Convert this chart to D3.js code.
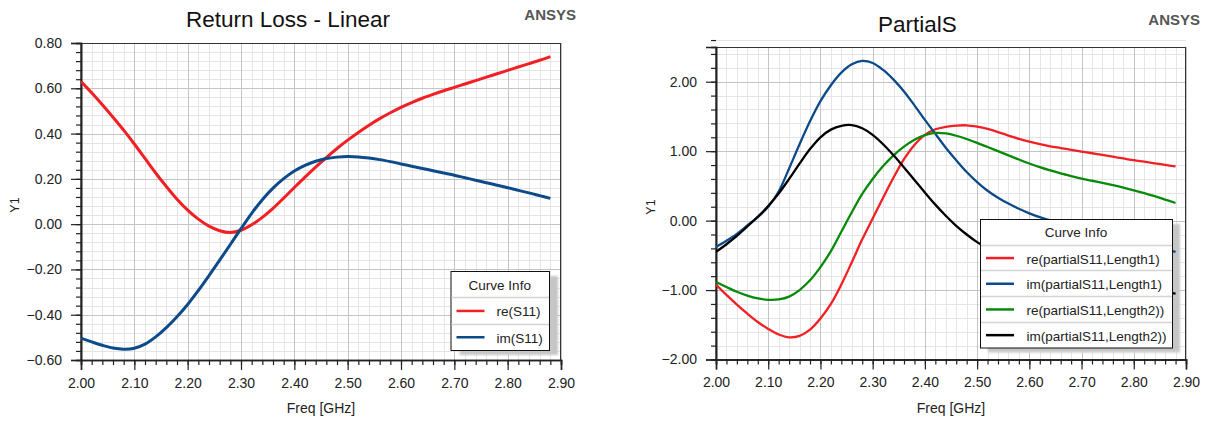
<!DOCTYPE html>
<html><head><meta charset="utf-8">
<script src="https://cdn.jsdelivr.net/npm/d3@7"></script>
<style>
body{margin:0;background:#fff;}
svg{display:block;font-family:"Liberation Sans",Arial,Helvetica,sans-serif;}
</style>
</head><body>
<svg id="chart" width="1210" height="425"></svg>
<script>
// ---------- data ----------
const freq = [2.00,2.02,2.04,2.06,2.08,2.10,2.12,2.14,2.16,2.18,2.20,2.22,2.24,2.26,2.28,2.30,2.32,2.34,2.36,2.38,2.40,2.42,2.44,2.46,2.48,2.50,2.52,2.54,2.56,2.58,2.60,2.62,2.64,2.66,2.68,2.70,2.72,2.74,2.76,2.78,2.80,2.82,2.84,2.86,2.88];

// Return Loss - Linear
const reS11 = [0.630,0.580,0.527,0.472,0.415,0.354,0.290,0.226,0.166,0.110,0.062,0.022,-0.009,-0.029,-0.037,-0.027,-0.003,0.030,0.070,0.115,0.162,0.208,0.252,0.294,0.334,0.371,0.405,0.437,0.466,0.492,0.516,0.537,0.556,0.573,0.589,0.604,0.619,0.634,0.649,0.664,0.679,0.694,0.709,0.724,0.740];
const imS11 = [-0.504,-0.520,-0.535,-0.547,-0.552,-0.548,-0.530,-0.498,-0.457,-0.409,-0.355,-0.293,-0.227,-0.159,-0.090,-0.020,0.048,0.108,0.159,0.201,0.235,0.260,0.278,0.290,0.296,0.299,0.297,0.292,0.285,0.276,0.266,0.256,0.246,0.236,0.226,0.216,0.205,0.194,0.183,0.172,0.161,0.149,0.138,0.126,0.114];

// PartialS
const rePartialL1 = [-0.92,-1.07,-1.21,-1.34,-1.46,-1.56,-1.64,-1.68,-1.66,-1.57,-1.41,-1.20,-0.92,-0.60,-0.27,0.03,0.33,0.62,0.885,1.09,1.235,1.315,1.35,1.368,1.372,1.352,1.32,1.275,1.225,1.178,1.136,1.10,1.07,1.045,1.02,0.995,0.97,0.945,0.92,0.895,0.87,0.848,0.825,0.802,0.78];
const imPartialL1 = [-0.38,-0.29,-0.19,-0.07,0.05,0.20,0.42,0.75,1.10,1.43,1.72,1.95,2.13,2.25,2.30,2.27,2.17,2.03,1.86,1.66,1.45,1.25,1.05,0.87,0.70,0.555,0.43,0.33,0.245,0.17,0.105,0.05,0.005,-0.04,-0.085,-0.125,-0.165,-0.20,-0.235,-0.27,-0.305,-0.34,-0.375,-0.41,-0.45];
const rePartialL2 = [-0.885,-0.955,-1.025,-1.08,-1.12,-1.14,-1.135,-1.095,-1.00,-0.86,-0.67,-0.44,-0.16,0.12,0.385,0.60,0.785,0.94,1.065,1.165,1.232,1.262,1.255,1.222,1.175,1.12,1.06,1.00,0.94,0.88,0.822,0.77,0.722,0.68,0.642,0.606,0.574,0.543,0.51,0.475,0.437,0.397,0.352,0.303,0.254];
const imPartialL2 = [-0.45,-0.34,-0.22,-0.085,0.055,0.21,0.39,0.60,0.82,1.03,1.20,1.31,1.365,1.375,1.33,1.235,1.10,0.94,0.765,0.585,0.405,0.23,0.07,-0.075,-0.20,-0.31,-0.40,-0.475,-0.54,-0.60,-0.65,-0.70,-0.74,-0.78,-0.815,-0.845,-0.875,-0.90,-0.925,-0.95,-0.97,-0.99,-1.01,-1.03,-1.05];

// tick labels
const xTicks = [2.00,2.10,2.20,2.30,2.40,2.50,2.60,2.70,2.80,2.90];
const yTicksLeft = [-0.60,-0.40,-0.20,0.00,0.20,0.40,0.60,0.80];
const yTicksRight = [-2.00,-1.00,0.00,1.00,2.00];

const leftNames = ["re(S11)","im(S11)"];
const rightNames = ["re(partialS11,Length1)","im(partialS11,Length1)","re(partialS11,Length2))","im(partialS11,Length2))"];

// ---------- drawing ----------
const svg = d3.select("#chart");
const RED="#f21f24", BLUE="#0c4a8a", GREEN="#078a0a", BLACK="#000000";
const fmt = d3.format(".2f");

function panel(cfg){
  const g = svg.append("g");
  const x = d3.scaleLinear().domain([2.0,2.9]).range([cfg.left,cfg.right]);
  const y = d3.scaleLinear().domain(cfg.yDomain).range([cfg.bottom,cfg.top]);

  // minor grid
  const xMinor = d3.range(0,46).map(i=>2.0+i*0.02);
  const yMinor = d3.range(0, Math.round((cfg.yDomain[1]-cfg.yDomain[0])/cfg.yMinorStep)+1)
                   .map(i=>cfg.yDomain[0]+i*cfg.yMinorStep);
  g.append("rect").attr("x",cfg.left).attr("y",cfg.top).attr("width",cfg.right-cfg.left).attr("height",cfg.bottom-cfg.top).attr("fill","#fff");
  g.append("g").selectAll("line").data(xMinor).join("line")
    .attr("x1",d=>Math.round(x(d))+0.5).attr("x2",d=>Math.round(x(d))+0.5)
    .attr("y1",cfg.top).attr("y2",cfg.bottom).attr("stroke","#e5e5e5").attr("stroke-width",1);
  g.append("g").selectAll("line").data(yMinor).join("line")
    .attr("y1",d=>Math.round(y(d))+0.5).attr("y2",d=>Math.round(y(d))+0.5)
    .attr("x1",cfg.left).attr("x2",cfg.right).attr("stroke","#e5e5e5").attr("stroke-width",1);
  // major grid
  g.append("g").selectAll("line").data(xTicks).join("line")
    .attr("x1",d=>Math.round(x(d))+0.5).attr("x2",d=>Math.round(x(d))+0.5)
    .attr("y1",cfg.top).attr("y2",cfg.bottom).attr("stroke","#c4c4c4").attr("stroke-width",1);
  g.append("g").selectAll("line").data(cfg.yTicks).join("line")
    .attr("y1",d=>Math.round(y(d))+0.5).attr("y2",d=>Math.round(y(d))+0.5)
    .attr("x1",cfg.left).attr("x2",cfg.right).attr("stroke","#c4c4c4").attr("stroke-width",1);

  // frame
  g.append("rect").attr("x",cfg.left).attr("y",cfg.top+0.5).attr("width",cfg.right-cfg.left-0.5).attr("height",cfg.bottom-cfg.top)
    .attr("fill","none").attr("stroke","#333").attr("stroke-width",1);

  // axes
  const axStyle = sel=>{
    sel.select(".domain").attr("stroke","#222").attr("stroke-width",1.6);
    sel.selectAll(".tick line").attr("stroke","#222").attr("stroke-width",1.2);
    sel.selectAll("text").attr("font-family","'Liberation Sans',Arial,sans-serif").attr("font-size",14).attr("fill","#222");
  };
  const yMinorAx = g.append("g").attr("transform",`translate(${cfg.left},0)`)
    .call(d3.axisLeft(y).tickValues(yMinor).tickSize(5).tickFormat(""));
  axStyle(yMinorAx);
  const yAx = g.append("g").attr("transform",`translate(${cfg.left},0)`)
    .call(d3.axisLeft(y).tickValues(cfg.yTicks).tickSize(10).tickPadding(9).tickFormat(fmt));
  axStyle(yAx);
  const xMinorAx = g.append("g").attr("transform",`translate(0,${cfg.bottom})`)
    .call(d3.axisBottom(x).tickValues(xMinor).tickSize(5).tickFormat(""));
  axStyle(xMinorAx);
  const xAx = g.append("g").attr("transform",`translate(0,${cfg.bottom})`)
    .call(d3.axisBottom(x).tickValues(xTicks).tickSize(10).tickPadding(8).tickFormat(fmt));
  axStyle(xAx);
  xAx.selectAll("text").attr("dy","0.71em");

  // axis titles
  g.append("text").attr("x",(cfg.left+cfg.right)/2).attr("y",cfg.xTitleY).attr("text-anchor","middle")
    .attr("font-size",14).attr("fill","#222").text("Freq [GHz]");
  g.append("text").attr("transform",`translate(${cfg.yTitleX},${cfg.yTitleY}) rotate(-90)`).attr("text-anchor","middle")
    .attr("dominant-baseline","central").attr("font-size",12.5).attr("fill","#222").text("Y1");

  // title + logo
  g.append("text").attr("x",cfg.titleX).attr("y",cfg.titleY).attr("text-anchor","middle")
    .attr("font-size",22.5).attr("fill","#111").text(cfg.title);
  g.append("text").attr("x",cfg.logoX).attr("y",cfg.logoY).attr("text-anchor","end")
    .attr("font-size",15).attr("font-weight","bold").attr("fill","#555").text("ANSYS");

  // legend geometry
  const L = cfg.legend;
  const defsId = "clip"+cfg.id;
  svg.append("defs").append("clipPath").attr("id",defsId).append("rect")
    .attr("x",cfg.left).attr("y",cfg.top).attr("width",cfg.right-cfg.left).attr("height",cfg.bottom-cfg.top);
  // shadow
  g.append("rect").attr("x",L.x+L.sx).attr("y",L.y+L.sy).attr("width",L.w).attr("height",L.h)
    .attr("fill","#c6c6c6").attr("clip-path",`url(#${defsId})`).attr("filter","url(#blur)");

  // curves
  const line = d3.line().x((d,i)=>x(freq[i])).y(d=>y(d)).curve(d3.curveCatmullRom.alpha(0.5));
  const cg = g.append("g").attr("clip-path",`url(#${defsId})`);
  cfg.series.forEach(s=>{
    cg.append("path").datum(s.values).attr("d",line).attr("fill","none")
      .attr("stroke",s.color).attr("stroke-width",cfg.lw).attr("stroke-linejoin","round");
  });

  // legend box
  const lg = g.append("g");
  lg.append("rect").attr("x",L.x+0.5).attr("y",L.y+0.5).attr("width",L.w).attr("height",L.h)
    .attr("fill","#fff").attr("stroke","#111").attr("stroke-width",1);
  lg.append("text").attr("x",L.x+L.w/2).attr("y",L.y+L.rowH/2+1).attr("text-anchor","middle")
    .attr("dominant-baseline","central").attr("font-size",13.5).attr("fill","#222").text("Curve Info");
  cfg.series.forEach((s,i)=>{
    const sepY = Math.round(L.y + L.rowH*(i+1)) + 0.5;
    lg.append("line").attr("x1",L.x+1).attr("x2",L.x+L.w).attr("y1",sepY).attr("y2",sepY)
      .attr("stroke","#d4d4d4").attr("stroke-width",1.5);
    const cy = L.y + L.rowH*(i+1.5) + 0.5;
    lg.append("line").attr("x1",L.x+L.lx1).attr("x2",L.x+L.lx2).attr("y1",cy).attr("y2",cy)
      .attr("stroke",s.color).attr("stroke-width",2.5);
    lg.append("text").attr("x",L.x+L.tx).attr("y",cy+1).attr("dominant-baseline","central")
      .attr("font-size",13.5).attr("fill","#222").text(s.name);
  });
}

svg.append("defs").append("filter").attr("id","blur").attr("x","-10%").attr("y","-10%").attr("width","130%").attr("height","130%")
  .append("feGaussianBlur").attr("stdDeviation",1.2);

panel({
  id:"L", left:81, right:561, top:43, bottom:360, yDomain:[-0.6,0.8], yMinorStep:0.04, yTicks:yTicksLeft,
  title:"Return Loss - Linear", titleX:288, titleY:27, logoX:576, logoY:20,
  xTitleY:413, yTitleX:15, yTitleY:205, lw:3,
  series:[{name:leftNames[0],values:reS11,color:RED},{name:leftNames[1],values:imS11,color:BLUE}],
  legend:{x:450.5,y:271,w:98.5,h:79,rowH:26.3,sx:9,sy:5,lx1:6,lx2:34,tx:46}
});
panel({
  id:"R", left:716, right:1186, top:47, bottom:359.5, yDomain:[-2,2.5], yMinorStep:0.2, yTicks:yTicksRight,
  title:"PartialS", titleX:917.5, titleY:31.5, logoX:1200, logoY:24.5,
  xTitleY:413, yTitleX:651, yTitleY:207, lw:2.3,
  series:[{name:rightNames[0],values:rePartialL1,color:RED},{name:rightNames[1],values:imPartialL1,color:BLUE},
          {name:rightNames[2],values:rePartialL2,color:GREEN},{name:rightNames[3],values:imPartialL2,color:BLACK}],
  legend:{x:980,y:219,w:192,h:128.5,rowH:25.7,sx:8,sy:5,lx1:6,lx2:34,tx:46.5}
});
</script>
</body></html>
